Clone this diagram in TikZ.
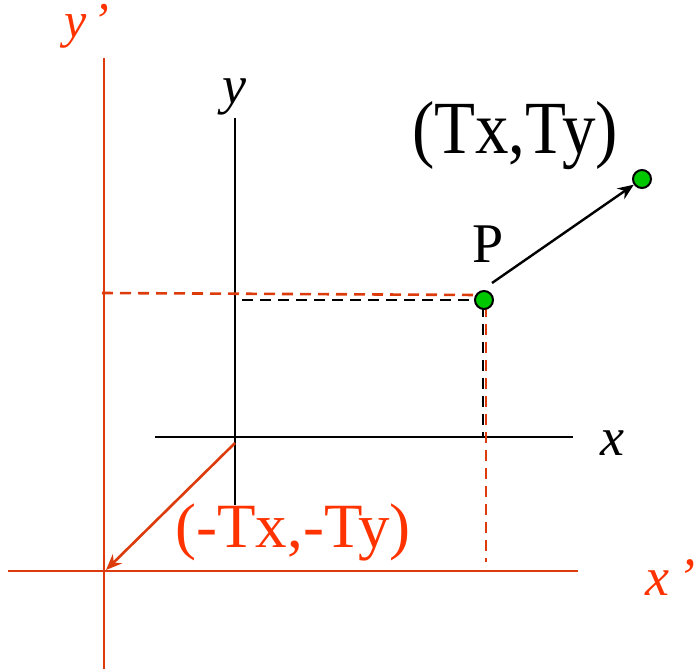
\documentclass[tikz,border=0pt]{standalone}
\usepackage{fontspec}
\usepackage{graphicx}
\setmainfont{Liberation Serif}
\usetikzlibrary{arrows.meta}
\definecolor{axred}{RGB}{220,60,12}
\definecolor{txtred}{RGB}{255,51,0}
\definecolor{ptgreen}{RGB}{0,200,0}
\tikzset{
  axis/.style={line width=2.6pt,black},
  raxis/.style={line width=2.6pt,axred},
  rdash/.style={line width=2.6pt,axred,dash pattern=on 11pt off 7pt},
  bdash/.style={line width=2.6pt,black,dash pattern=on 11pt off 7pt},
  pt/.style={circle,draw=black,line width=2pt,fill=ptgreen,inner sep=0pt,minimum size=18pt},
  lbl/.style={inner sep=0pt,anchor=base,font=\fontsize{63}{66}\selectfont},
  ilbl/.style={inner sep=0pt,anchor=base,font=\fontsize{54}{58}\selectfont\itshape},
  arr/.style={-{Stealth[length=16pt,width=13pt]}},
}
\begin{document}
\begin{tikzpicture}[x=1pt,y=-1pt]
\useasboundingbox (0,0) rectangle (696,669);
% red primed axes
\coordinate (ypt) at (104,58);
\coordinate (ypb) at (104,669);
\coordinate (xpl) at (8,571);
\coordinate (xpr) at (578,571);
\draw[raxis] (ypt) -- (ypb);
\draw[raxis] (xpl) -- (xpr);
\coordinate (O2) at (106,570);
% black axes
\coordinate (yt) at (235,118);
\coordinate (yb) at (235,505);
\coordinate (xl) at (155,437);
\coordinate (xr) at (573,437);
\draw[axis] (yt) -- (yb);
\draw[axis] (xl) -- (xr);
\coordinate (O) at (235,443);
% dashed projections
\coordinate (rdl) at (102,293);
\coordinate (rdr) at (478,295);
\coordinate (bdl) at (242,300);
\coordinate (bdr) at (476,300);
\coordinate (rvt) at (486,306);
\coordinate (rvb) at (486,562);
\coordinate (bvt) at (483,306);
\coordinate (bvb) at (483,437);
\draw[rdash] (rdl) -- (rdr);
\draw[rdash] (rvt) -- (rvb);
\draw[bdash] (bdl) -- (bdr);
\draw[bdash] (bvt) -- (bvb);
% points
\node[pt] (P) at (484,300) {};
\node[pt] (Q) at (642,179) {};
\coordinate (ps) at (492,283);
\draw[line width=2.4pt,arr] (ps) -- (Q);
% red translation arrow
\draw[line width=2.6pt,axred,arr] (O) -- (O2);
% labels
\node[ilbl] (ylab) at (234,103) {y};
\node[ilbl] (xlab) at (612,455) {x};
\node[ilbl,txtred,anchor=base west,font=\fontsize{50}{54}\selectfont\itshape] (yplab) at (64,38) {y\kern6pt’};
\node[ilbl,txtred,anchor=base west] (xplab) at (645,595) {x\kern8pt’};
\node[lbl,font=\fontsize{56}{60}\selectfont] (Plab) at (488,262) {P};
\node[lbl,font=\fontsize{67}{70}\selectfont] (Tlab) at (515,153) {\scalebox{1}[1.12]{(Tx,Ty)}};
\node[lbl,txtred] (mTlab) at (293,547) {(-Tx,-Ty)};
\end{tikzpicture}
\end{document}
